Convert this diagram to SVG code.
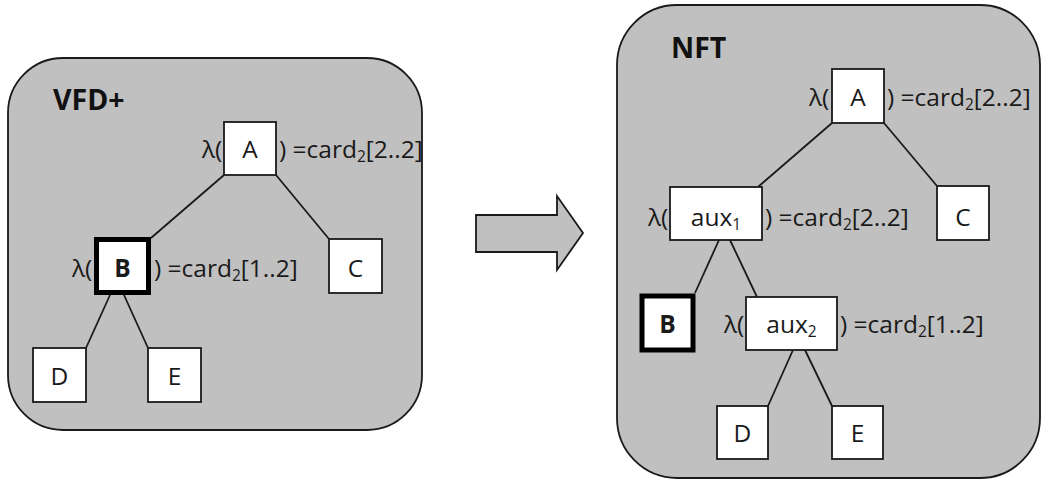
<svg xmlns="http://www.w3.org/2000/svg" width="1041" height="479" viewBox="0 0 1041 479">
  <style>
    .panel { fill: #c0c0c0; stroke: #1a1a1a; stroke-width: 1.8; }
    .node rect { fill: #ffffff; stroke: #1a1a1a; stroke-width: 1.8; }
    .node.sel rect { stroke: #000000; stroke-width: 5; }
    .lbl { font-family: "Open Sans", "DejaVu Sans", sans-serif; font-size: 24.5px; fill: #1a1a1a; }
    .mid { text-anchor: middle; }
    .bold { font-weight: bold; }
    .title { font-family: "Open Sans", "DejaVu Sans", sans-serif; font-size: 28.5px; font-weight: bold; fill: #111111; }
    .sub { font-size: 15.5px; }
    .edge line { stroke: #1a1a1a; stroke-width: 1.8; }
  </style>

  <!-- left panel: VFD+ -->
  <rect class="panel" x="8" y="58" width="414" height="372" rx="55" ry="55"/>
  <text class="title" x="53" y="110">VFD+</text>

  <!-- right panel: NFT -->
  <rect class="panel" x="617" y="5" width="423" height="473" rx="60" ry="60"/>
  <text class="title" x="671" y="58">NFT</text>

  <!-- transformation arrow -->
  <polygon id="transform-arrow" points="476,215 557,215 557,196 583,233 557,270 557,252 476,252" fill="#c0c0c0" stroke="#1a1a1a" stroke-width="1.8" stroke-linejoin="miter"/>

  <!-- connectors -->
  <g id="connectors" class="edge">
    <line x1="224" y1="175" x2="151" y2="238"/>
    <line x1="276" y1="175" x2="329" y2="239"/>
    <line x1="110" y1="295" x2="86" y2="348"/>
    <line x1="124" y1="295" x2="148" y2="348"/>

    <line x1="832" y1="123" x2="758" y2="187"/>
    <line x1="884" y1="123" x2="937" y2="186"/>
    <line x1="719" y1="240" x2="695" y2="293"/>
    <line x1="730" y1="240" x2="757" y2="297"/>
    <line x1="793" y1="350" x2="768" y2="406"/>
    <line x1="805" y1="350" x2="832" y2="406"/>
  </g>

  <!-- left tree nodes -->
  <g id="vfd-A" class="node">
    <rect x="224" y="122" width="52" height="53"/>
    <text class="lbl mid" x="250" y="158">A</text>
    <text class="lbl" x="202" y="158">λ(</text>
    <text class="lbl" x="279" y="158">) =card<tspan class="sub" dy="4">2</tspan><tspan dy="-4">[2..2]</tspan></text>
  </g>
  <g id="vfd-B" class="node sel">
    <rect x="96.5" y="239.5" width="52" height="53"/>
    <text class="lbl mid bold" x="122.5" y="277">B</text>
    <text class="lbl" x="72" y="277">λ(</text>
    <text class="lbl" x="154" y="277">) =card<tspan class="sub" dy="4">2</tspan><tspan dy="-4">[1..2]</tspan></text>
  </g>
  <g id="vfd-C" class="node">
    <rect x="329" y="239" width="53" height="54"/>
    <text class="lbl mid" x="355.5" y="277">C</text>
  </g>
  <g id="vfd-D" class="node">
    <rect x="33" y="348" width="53" height="54"/>
    <text class="lbl mid" x="59.5" y="385">D</text>
  </g>
  <g id="vfd-E" class="node">
    <rect x="148" y="348" width="53" height="54"/>
    <text class="lbl mid" x="174.5" y="385">E</text>
  </g>

  <!-- right tree nodes -->
  <g id="nft-A" class="node">
    <rect x="832" y="69" width="52" height="54"/>
    <text class="lbl mid" x="858" y="106">A</text>
    <text class="lbl" x="809" y="106">λ(</text>
    <text class="lbl" x="887" y="106">) =card<tspan class="sub" dy="4">2</tspan><tspan dy="-4">[2..2]</tspan></text>
  </g>
  <g id="nft-aux1" class="node">
    <rect x="670" y="187" width="92" height="53"/>
    <text class="lbl mid" x="716" y="226">aux<tspan class="sub" dy="4">1</tspan></text>
    <text class="lbl" x="648" y="226">λ(</text>
    <text class="lbl" x="765" y="226">) =card<tspan class="sub" dy="4">2</tspan><tspan dy="-4">[2..2]</tspan></text>
  </g>
  <g id="nft-C" class="node">
    <rect x="937" y="186" width="52" height="54"/>
    <text class="lbl mid" x="963" y="226">C</text>
  </g>
  <g id="nft-B" class="node sel">
    <rect x="642" y="296" width="51" height="54"/>
    <text class="lbl mid bold" x="667.5" y="333">B</text>
  </g>
  <g id="nft-aux2" class="node">
    <rect x="746" y="297" width="91" height="53"/>
    <text class="lbl mid" x="791.5" y="333">aux<tspan class="sub" dy="4">2</tspan></text>
    <text class="lbl" x="724" y="333">λ(</text>
    <text class="lbl" x="840" y="333">) =card<tspan class="sub" dy="4">2</tspan><tspan dy="-4">[1..2]</tspan></text>
  </g>
  <g id="nft-D" class="node">
    <rect x="717" y="406" width="51" height="53"/>
    <text class="lbl mid" x="742.5" y="442">D</text>
  </g>
  <g id="nft-E" class="node">
    <rect x="832" y="406" width="51" height="53"/>
    <text class="lbl mid" x="857.5" y="442">E</text>
  </g>
</svg>
